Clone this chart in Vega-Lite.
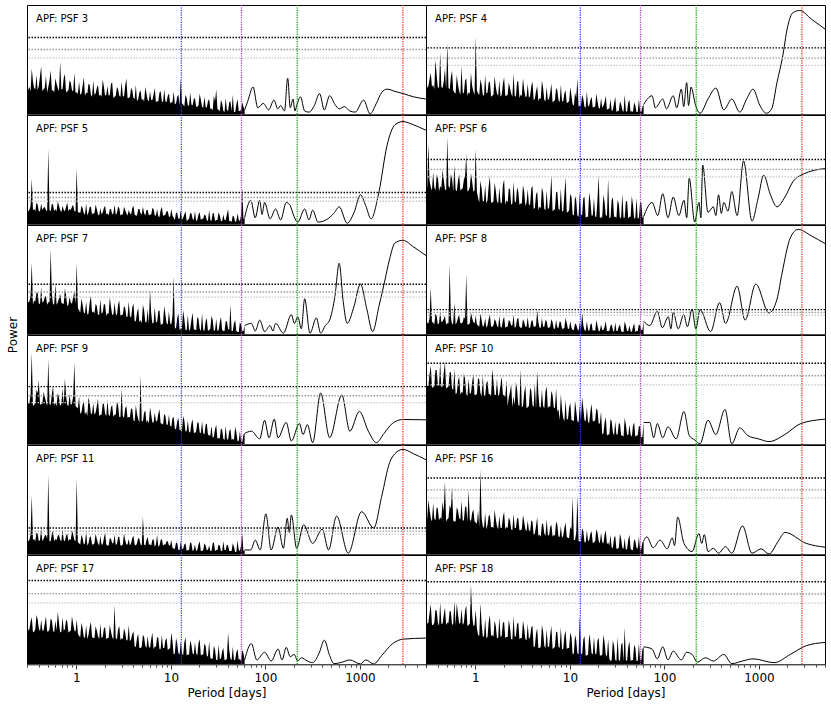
{
"$schema":"https://vega.github.io/schema/vega-lite/v6.json",
"padding":{"left":6,"top":3,"right":5,"bottom":2},
"background":"white",
"config":{"font":"DejaVu Sans","view":{"stroke":"black","strokeWidth":1}},
"datasets":{"meta":[
{"k":"p3","row":1,"col":1,"lab":"APF: PSF 3","thr":70.2,"g1":59.3,"g2":51.4},
{"k":"p4","row":1,"col":2,"lab":"APF: PSF 4","thr":60.8,"g1":51.4,"g2":44.7},
{"k":"p5","row":2,"col":1,"lab":"APF: PSF 5","thr":29.1,"g1":24.5,"g2":21.1},
{"k":"p6","row":2,"col":2,"lab":"APF: PSF 6","thr":59.3,"g1":50.2,"g2":43.4},
{"k":"p7","row":3,"col":1,"lab":"APF: PSF 7","thr":45.8,"g1":38.7,"g2":34.1},
{"k":"p8","row":3,"col":2,"lab":"APF: PSF 8","thr":22.6,"g1":20.1,"g2":17.3},
{"k":"p9","row":4,"col":1,"lab":"APF: PSF 9","thr":52.8,"g1":44.4,"g2":38.2},
{"k":"p10","row":4,"col":2,"lab":"APF: PSF 10","thr":74.2,"g1":62.7,"g2":54.3},
{"k":"p11","row":5,"col":1,"lab":"APF: PSF 11","thr":24,"g1":21.2,"g2":18.5},
{"k":"p16","row":5,"col":2,"lab":"APF: PSF 16","thr":69.8,"g1":58.9,"g2":51.4},
{"k":"p17","row":6,"col":1,"lab":"APF: PSF 17","thr":76.7,"g1":64.6,"g2":56.2},
{"k":"p18","row":6,"col":2,"lab":"APF: PSF 18","thr":75.5,"g1":64.3,"g2":55.9}
]},
"data":{"values":[
{"x":0.3,"p3":53,"p4":45,"p5":18,"p6":45,"p7":40,"p8":22,"p9":52,"p10":70,"p11":22,"p16":44,"p17":47,"p18":71},
{"x":0.318,"p3":25,"p4":26,"p5":13,"p6":74,"p7":30,"p8":10,"p9":38,"p10":54,"p11":13,"p16":50,"p17":32,"p18":38},
{"x":0.337,"p3":42,"p4":38,"p5":42,"p6":34,"p7":66,"p8":43,"p9":84,"p10":72,"p11":54,"p16":33,"p17":43,"p18":55},
{"x":0.357,"p3":24,"p4":27,"p5":14,"p6":48,"p7":31,"p8":11,"p9":36,"p10":52,"p11":14,"p16":47,"p17":30,"p18":36},
{"x":0.378,"p3":36,"p4":50,"p5":20,"p6":31,"p7":38,"p8":19,"p9":50,"p10":68,"p11":20,"p16":31,"p17":45,"p18":50},
{"x":0.4,"p3":26,"p4":25,"p5":12,"p6":44,"p7":28,"p8":9,"p9":59,"p10":55,"p11":12,"p16":42,"p17":33,"p18":39},
{"x":0.424,"p3":44,"p4":57,"p5":19,"p6":35,"p7":43,"p8":21,"p9":37,"p10":76,"p11":24,"p16":34,"p17":41,"p18":57},
{"x":0.449,"p3":23,"p4":24,"p5":15,"p6":50,"p7":30,"p8":12,"p9":48,"p10":53,"p11":14,"p16":48,"p17":31,"p18":37},
{"x":0.476,"p3":35,"p4":42,"p5":13,"p6":32,"p7":35,"p8":17,"p9":39,"p10":75,"p11":18,"p16":67,"p17":44,"p18":52},
{"x":0.504,"p3":25,"p4":65,"p5":69,"p6":80,"p7":29,"p8":10,"p9":78,"p10":52,"p11":73,"p16":32,"p17":30,"p18":38},
{"x":0.534,"p3":40,"p4":23,"p5":12,"p6":33,"p7":78,"p8":64,"p9":36,"p10":66,"p11":12,"p16":45,"p17":42,"p18":49},
{"x":0.566,"p3":22,"p4":40,"p5":18,"p6":42,"p7":27,"p8":9,"p9":53,"p10":51,"p11":21,"p16":62,"p17":31,"p18":36},
{"x":0.599,"p3":33,"p4":20,"p5":14,"p6":54,"p7":46,"p8":29,"p9":38,"p10":69,"p11":14,"p16":30,"p17":40,"p18":58},
{"x":0.635,"p3":24,"p4":36,"p5":21,"p6":30,"p7":29,"p8":11,"p9":47,"p10":47,"p11":17,"p16":43,"p17":48,"p18":56},
{"x":0.673,"p3":48,"p4":21,"p5":13,"p6":46,"p7":37,"p8":18,"p9":35,"p10":62,"p11":13,"p16":33,"p17":29,"p18":37},
{"x":0.713,"p3":23,"p4":44,"p5":17,"p6":32,"p7":28,"p8":10,"p9":51,"p10":48,"p11":23,"p16":49,"p17":43,"p18":51},
{"x":0.755,"p3":37,"p4":19,"p5":12,"p6":41,"p7":42,"p8":16,"p9":60,"p10":65,"p11":12,"p16":31,"p17":32,"p18":38},
{"x":0.8,"p3":21,"p4":33,"p5":20,"p6":64,"p7":26,"p8":55,"p9":36,"p10":46,"p11":19,"p16":44,"p17":39,"p18":54},
{"x":0.847,"p3":31,"p4":20,"p5":14,"p6":31,"p7":34,"p8":9,"p9":46,"p10":60,"p11":14,"p16":59,"p17":30,"p18":36},
{"x":0.897,"p3":22,"p4":38,"p5":16,"p6":47,"p7":28,"p8":20,"p9":37,"p10":47,"p11":22,"p16":30,"p17":44,"p18":73},
{"x":0.951,"p3":38,"p4":21,"p5":12,"p6":30,"p7":39,"p8":11,"p9":75,"p10":64,"p11":13,"p16":41,"p17":31,"p18":35},
{"x":1.007,"p3":20,"p4":71,"p5":51,"p6":69,"p7":65,"p8":17,"p9":34,"p10":45,"p11":70,"p16":29,"p17":41,"p18":50},
{"x":1.067,"p3":30,"p4":19,"p5":11,"p6":24,"p7":22,"p8":8,"p9":44,"p10":61,"p11":10,"p16":40,"p17":26,"p18":27},
{"x":1.13,"p3":19,"p4":32,"p5":17,"p6":40,"p7":33,"p8":19,"p9":29,"p10":47,"p11":18,"p16":78,"p17":38,"p18":56},
{"x":1.197,"p3":34,"p4":18,"p5":10,"p6":21,"p7":20,"p8":7,"p9":40,"p10":63,"p11":9,"p16":26,"p17":25,"p18":26},
{"x":1.268,"p3":20,"p4":36,"p5":19,"p6":36,"p7":30,"p8":15,"p9":30,"p10":44,"p11":21,"p16":38,"p17":36,"p18":42},
{"x":1.343,"p3":28,"p4":20,"p5":11,"p6":22,"p7":19,"p8":8,"p9":43,"p10":58,"p11":10,"p16":27,"p17":27,"p18":25},
{"x":1.423,"p3":18,"p4":30,"p5":16,"p6":44,"p7":35,"p8":18,"p9":28,"p10":46,"p11":16,"p16":36,"p17":39,"p18":45},
{"x":1.507,"p3":31,"p4":17,"p5":10,"p6":20,"p7":21,"p8":7,"p9":38,"p10":69,"p11":9,"p16":25,"p17":24,"p18":27},
{"x":1.597,"p3":19,"p4":35,"p5":18,"p6":38,"p7":28,"p8":14,"p9":29,"p10":45,"p11":19,"p16":41,"p17":35,"p18":40},
{"x":1.691,"p3":27,"p4":19,"p5":9,"p6":21,"p7":18,"p8":8,"p9":42,"p10":60,"p11":10,"p16":26,"p17":26,"p18":24},
{"x":1.792,"p3":18,"p4":31,"p5":15,"p6":34,"p7":32,"p8":17,"p9":27,"p10":46,"p11":17,"p16":35,"p17":37,"p18":43},
{"x":1.898,"p3":32,"p4":18,"p5":11,"p6":19,"p7":20,"p8":6,"p9":37,"p10":62,"p11":9,"p16":24,"p17":25,"p18":26},
{"x":2.011,"p3":17,"p4":34,"p5":17,"p6":41,"p7":27,"p8":16,"p9":28,"p10":45,"p11":20,"p16":39,"p17":34,"p18":39},
{"x":2.13,"p3":26,"p4":17,"p5":10,"p6":22,"p7":19,"p8":7,"p9":41,"p10":59,"p11":8,"p16":25,"p17":24,"p18":25},
{"x":2.256,"p3":18,"p4":29,"p5":14,"p6":33,"p7":34,"p8":13,"p9":26,"p10":43,"p11":15,"p16":34,"p17":36,"p18":41},
{"x":2.39,"p3":29,"p4":19,"p5":9,"p6":18,"p7":18,"p8":8,"p9":36,"p10":55,"p11":10,"p16":23,"p17":25,"p18":23},
{"x":2.532,"p3":16,"p4":37,"p5":18,"p6":39,"p7":29,"p8":18,"p9":27,"p10":44,"p11":18,"p16":37,"p17":54,"p18":44},
{"x":2.682,"p3":25,"p4":16,"p5":10,"p6":20,"p7":17,"p8":7,"p9":39,"p10":57,"p11":9,"p16":24,"p17":23,"p18":26},
{"x":2.841,"p3":17,"p4":30,"p5":15,"p6":30,"p7":31,"p8":15,"p9":25,"p10":36,"p11":16,"p16":33,"p17":35,"p18":38},
{"x":3.01,"p3":30,"p4":18,"p5":9,"p6":19,"p7":18,"p8":6,"p9":51,"p10":69,"p11":8,"p16":22,"p17":24,"p18":24},
{"x":3.188,"p3":16,"p4":33,"p5":16,"p6":36,"p7":26,"p8":14,"p9":24,"p10":35,"p11":19,"p16":36,"p17":33,"p18":40},
{"x":3.377,"p3":33,"p4":16,"p5":10,"p6":17,"p7":16,"p8":7,"p9":35,"p10":54,"p11":9,"p16":23,"p17":22,"p18":23},
{"x":3.577,"p3":15,"p4":28,"p5":13,"p6":32,"p7":30,"p8":16,"p9":25,"p10":34,"p11":14,"p16":31,"p17":36,"p18":37},
{"x":3.79,"p3":24,"p4":17,"p5":9,"p6":18,"p7":15,"p8":6,"p9":33,"p10":52,"p11":10,"p16":21,"p17":23,"p18":25},
{"x":4.014,"p3":15,"p4":30,"p5":17,"p6":35,"p7":28,"p8":13,"p9":22,"p10":36,"p11":17,"p16":30,"p17":30,"p18":35},
{"x":4.253,"p3":27,"p4":14,"p5":8,"p6":15,"p7":12,"p8":7,"p9":36,"p10":56,"p11":8,"p16":19,"p17":16,"p18":16},
{"x":4.505,"p3":14,"p4":26,"p5":14,"p6":30,"p7":24,"p8":22,"p9":23,"p10":67,"p11":15,"p16":34,"p17":28,"p18":33},
{"x":4.772,"p3":22,"p4":15,"p5":10,"p6":16,"p7":13,"p8":6,"p9":63,"p10":34,"p11":9,"p16":18,"p17":15,"p18":15},
{"x":5.055,"p3":14,"p4":31,"p5":16,"p6":34,"p7":27,"p8":15,"p9":21,"p10":50,"p11":35,"p16":28,"p17":27,"p18":36},
{"x":5.355,"p3":25,"p4":13,"p5":8,"p6":14,"p7":11,"p8":7,"p9":31,"p10":33,"p11":8,"p16":19,"p17":17,"p18":17},
{"x":5.672,"p3":13,"p4":25,"p5":13,"p6":31,"p7":23,"p8":12,"p9":22,"p10":53,"p11":16,"p16":32,"p17":26,"p18":32},
{"x":6.009,"p3":21,"p4":14,"p5":9,"p6":15,"p7":41,"p8":6,"p9":34,"p10":35,"p11":9,"p16":17,"p17":15,"p18":16},
{"x":6.365,"p3":13,"p4":28,"p5":15,"p6":45,"p7":10,"p8":14,"p9":20,"p10":49,"p11":13,"p16":27,"p17":29,"p18":35},
{"x":6.743,"p3":24,"p4":12,"p5":8,"p6":13,"p7":25,"p8":5,"p9":29,"p10":34,"p11":7,"p16":18,"p17":16,"p18":15},
{"x":7.142,"p3":12,"p4":24,"p5":14,"p6":29,"p7":11,"p8":13,"p9":21,"p10":51,"p11":18,"p16":30,"p17":25,"p18":30},
{"x":7.566,"p3":20,"p4":13,"p5":7,"p6":14,"p7":22,"p8":6,"p9":32,"p10":32,"p11":8,"p16":16,"p17":14,"p18":16},
{"x":8.015,"p3":12,"p4":27,"p5":16,"p6":33,"p7":9,"p8":11,"p9":19,"p10":46,"p11":14,"p16":26,"p17":27,"p18":34},
{"x":8.49,"p3":23,"p4":12,"p5":8,"p6":12,"p7":26,"p8":5,"p9":28,"p10":24,"p11":9,"p16":17,"p17":15,"p18":14},
{"x":8.994,"p3":11,"p4":22,"p5":12,"p6":43,"p7":10,"p8":15,"p9":18,"p10":41,"p11":12,"p16":29,"p17":24,"p18":31},
{"x":9.527,"p3":19,"p4":11,"p5":7,"p6":11,"p7":21,"p8":5,"p9":27,"p10":23,"p11":8,"p16":15,"p17":14,"p18":15},
{"x":10.09,"p3":11,"p4":25,"p5":14,"p6":28,"p7":9,"p8":12,"p9":16,"p10":38,"p11":13,"p16":25,"p17":29,"p18":29},
{"x":10.69,"p3":21,"p4":9,"p5":6,"p6":9,"p7":53,"p8":4,"p9":25,"p10":22,"p11":5,"p16":52,"p17":9,"p18":9},
{"x":11.33,"p3":10,"p4":20,"p5":11,"p6":26,"p7":6,"p8":10,"p9":14,"p10":40,"p11":11,"p16":13,"p17":24,"p18":27},
{"x":12.0,"p3":18,"p4":33,"p5":5,"p6":8,"p7":19,"p8":5,"p9":24,"p10":21,"p11":4,"p16":54,"p17":10,"p18":10},
{"x":12.71,"p3":33,"p4":8,"p5":13,"p6":30,"p7":5,"p8":11,"p9":13,"p10":36,"p11":12,"p16":12,"p17":21,"p18":45},
{"x":13.46,"p3":9,"p4":18,"p5":6,"p6":9,"p7":22,"p8":20,"p9":26,"p10":43,"p11":5,"p16":24,"p17":8,"p18":9},
{"x":14.26,"p3":18,"p4":7,"p5":12,"p6":25,"p7":4,"p8":4,"p9":12,"p10":22,"p11":10,"p16":11,"p17":25,"p18":26},
{"x":15.11,"p3":8,"p4":21,"p5":4,"p6":7,"p7":18,"p8":12,"p9":22,"p10":34,"p11":4,"p16":22,"p17":9,"p18":8},
{"x":16.0,"p3":20,"p4":8,"p5":10,"p6":29,"p7":5,"p8":3,"p9":11,"p10":20,"p11":11,"p16":13,"p17":22,"p18":28},
{"x":16.95,"p3":8,"p4":16,"p5":5,"p6":8,"p7":20,"p8":10,"p9":23,"p10":37,"p11":3,"p16":21,"p17":10,"p18":10},
{"x":17.96,"p3":15,"p4":7,"p5":12,"p6":24,"p7":4,"p8":4,"p9":10,"p10":21,"p11":9,"p16":11,"p17":20,"p18":25},
{"x":19.02,"p3":7,"p4":19,"p5":4,"p6":7,"p7":16,"p8":13,"p9":20,"p10":33,"p11":4,"p16":23,"p17":8,"p18":9},
{"x":20.15,"p3":19,"p4":6,"p5":11,"p6":45,"p7":5,"p8":3,"p9":11,"p10":19,"p11":12,"p16":12,"p17":23,"p18":24},
{"x":21.35,"p3":7,"p4":15,"p5":5,"p6":6,"p7":19,"p8":9,"p9":21,"p10":30,"p11":3,"p16":20,"p17":9,"p18":8},
{"x":22.61,"p3":16,"p4":8,"p5":9,"p6":27,"p7":3,"p8":4,"p9":9,"p10":10,"p11":10,"p16":10,"p17":19,"p18":27},
{"x":23.95,"p3":6,"p4":17,"p5":4,"p6":8,"p7":15,"p8":12,"p9":19,"p10":25,"p11":4,"p16":22,"p17":8,"p18":9},
{"x":25.37,"p3":14,"p4":5,"p5":13,"p6":42,"p7":4,"p8":3,"p9":8,"p10":9,"p11":8,"p16":11,"p17":21,"p18":23},
{"x":26.88,"p3":5,"p4":14,"p5":3,"p6":6,"p7":17,"p8":8,"p9":17,"p10":23,"p11":3,"p16":18,"p17":5,"p18":3},
{"x":28.47,"p3":17,"p4":4,"p5":10,"p6":25,"p7":3,"p8":4,"p9":7,"p10":11,"p11":11,"p16":6,"p17":17,"p18":22},
{"x":30.16,"p3":23,"p4":16,"p5":4,"p6":7,"p7":14,"p8":11,"p9":18,"p10":21,"p11":4,"p16":17,"p17":4,"p18":4},
{"x":31.95,"p3":4,"p4":3,"p5":11,"p6":22,"p7":4,"p8":3,"p9":6,"p10":9,"p11":9,"p16":5,"p17":18,"p18":25},
{"x":33.85,"p3":13,"p4":12,"p5":3,"p6":5,"p7":16,"p8":9,"p9":15,"p10":19,"p11":3,"p16":19,"p17":5,"p18":3},
{"x":35.86,"p3":3,"p4":4,"p5":9,"p6":28,"p7":3,"p8":2,"p9":5,"p10":8,"p11":12,"p16":6,"p17":15,"p18":20},
{"x":37.98,"p3":15,"p4":18,"p5":4,"p6":6,"p7":12,"p8":12,"p9":17,"p10":24,"p11":4,"p16":15,"p17":4,"p18":34},
{"x":40.24,"p3":3,"p4":2,"p5":14,"p6":21,"p7":5,"p8":3,"p9":4,"p10":9,"p11":8,"p16":5,"p17":29,"p18":3},
{"x":42.62,"p3":12,"p4":13,"p5":3,"p6":7,"p7":27,"p8":8,"p9":14,"p10":18,"p11":3,"p16":18,"p17":5,"p18":21},
{"x":45.15,"p3":18,"p4":3,"p5":8,"p6":26,"p7":3,"p8":2,"p9":5,"p10":7,"p11":10,"p16":4,"p17":16,"p18":4},
{"x":47.83,"p3":2,"p4":11,"p5":2,"p6":5,"p7":13,"p8":10,"p9":16,"p10":20,"p11":2,"p16":14,"p17":4,"p18":18},
{"x":50.67,"p3":14,"p4":2,"p5":10,"p6":24,"p7":2,"p8":3,"p9":3,"p10":8,"p11":13,"p16":6,"p17":14,"p18":3},
{"x":53.67,"p3":3,"p4":14,"p5":3,"p6":6,"p7":11,"p8":9,"p9":12,"p10":17,"p11":3,"p16":16,"p17":5,"p18":19},
{"x":56.86,"p3":11,"p4":2,"p5":33,"p6":20,"p7":3,"p8":4,"p9":2,"p10":6,"p11":19,"p16":5,"p17":13,"p18":4},
{"x":60.23,"p3":4,"p4":9,"p5":6,"p6":7,"p7":8,"p8":12,"p9":10,"p10":20,"p11":4,"p16":12,"p17":4,"p18":16},
{"x":0.309,"p3":22,"p4":24,"p5":12,"p6":33,"p7":29,"p8":10,"p9":37,"p10":53,"p11":12,"p16":32,"p17":31,"p18":37},
{"x":0.327,"p3":21,"p4":32,"p5":17,"p6":40,"p7":35,"p8":15,"p9":45,"p10":64,"p11":18,"p16":41,"p17":39,"p18":47},
{"x":0.347,"p3":30,"p4":25,"p5":13,"p6":31,"p7":27,"p8":11,"p9":35,"p10":52,"p11":13,"p16":30,"p17":29,"p18":36},
{"x":0.367,"p3":23,"p4":23,"p5":12,"p6":34,"p7":30,"p8":9,"p9":38,"p10":54,"p11":12,"p16":33,"p17":32,"p18":38},
{"x":0.389,"p3":22,"p4":36,"p5":18,"p6":45,"p7":38,"p8":17,"p9":47,"p10":68,"p11":19,"p16":43,"p17":41,"p18":49},
{"x":0.412,"p3":35,"p4":24,"p5":12,"p6":30,"p7":28,"p8":10,"p9":36,"p10":53,"p11":13,"p16":31,"p17":30,"p18":35},
{"x":0.436,"p3":21,"p4":25,"p5":13,"p6":33,"p7":29,"p8":11,"p9":37,"p10":52,"p11":12,"p16":32,"p17":31,"p18":37},
{"x":0.462,"p3":24,"p4":30,"p5":16,"p6":41,"p7":34,"p8":14,"p9":44,"p10":65,"p11":17,"p16":39,"p17":37,"p18":45},
{"x":0.49,"p3":20,"p4":23,"p5":12,"p6":31,"p7":27,"p8":9,"p9":35,"p10":51,"p11":14,"p16":30,"p17":30,"p18":36},
{"x":0.519,"p3":31,"p4":24,"p5":13,"p6":35,"p7":30,"p8":10,"p9":37,"p10":53,"p11":12,"p16":33,"p17":32,"p18":38},
{"x":0.55,"p3":22,"p4":34,"p5":19,"p6":46,"p7":37,"p8":16,"p9":46,"p10":66,"p11":19,"p16":42,"p17":40,"p18":48},
{"x":0.582,"p3":20,"p4":22,"p5":12,"p6":30,"p7":28,"p8":10,"p9":36,"p10":50,"p11":12,"p16":31,"p17":29,"p18":37},
{"x":0.617,"p3":28,"p4":19,"p5":12,"p6":32,"p7":27,"p8":9,"p9":35,"p10":46,"p11":13,"p16":30,"p17":31,"p18":36},
{"x":0.654,"p3":21,"p4":27,"p5":17,"p6":40,"p7":33,"p8":15,"p9":43,"p10":58,"p11":18,"p16":40,"p17":38,"p18":46},
{"x":0.693,"p3":23,"p4":18,"p5":11,"p6":31,"p7":29,"p8":10,"p9":37,"p10":45,"p11":12,"p16":32,"p17":30,"p18":38},
{"x":0.734,"p3":33,"p4":20,"p5":13,"p6":33,"p7":28,"p8":11,"p9":36,"p10":47,"p11":13,"p16":31,"p17":31,"p18":36},
{"x":0.777,"p3":20,"p4":31,"p5":16,"p6":44,"p7":36,"p8":14,"p9":45,"p10":60,"p11":17,"p16":43,"p17":41,"p18":49},
{"x":0.823,"p3":22,"p4":17,"p5":12,"p6":30,"p7":27,"p8":9,"p9":35,"p10":44,"p11":12,"p16":30,"p17":29,"p18":35},
{"x":0.872,"p3":29,"p4":19,"p5":13,"p6":34,"p7":29,"p8":10,"p9":36,"p10":46,"p11":13,"p16":32,"p17":31,"p18":37},
{"x":0.924,"p3":21,"p4":26,"p5":18,"p6":39,"p7":34,"p8":15,"p9":44,"p10":57,"p11":18,"p16":38,"p17":37,"p18":45},
{"x":0.979,"p3":20,"p4":18,"p5":12,"p6":31,"p7":28,"p8":10,"p9":35,"p10":45,"p11":12,"p16":30,"p17":30,"p18":36},
{"x":1.037,"p3":19,"p4":22,"p5":11,"p6":30,"p7":24,"p8":9,"p9":33,"p10":46,"p11":11,"p16":28,"p17":28,"p18":33},
{"x":1.098,"p3":18,"p4":18,"p5":10,"p6":20,"p7":20,"p8":7,"p9":28,"p10":59,"p11":9,"p16":25,"p17":25,"p18":26},
{"x":1.163,"p3":26,"p4":27,"p5":15,"p6":33,"p7":27,"p8":13,"p9":36,"p10":44,"p11":15,"p16":33,"p17":33,"p18":37},
{"x":1.232,"p3":17,"p4":17,"p5":9,"p6":21,"p7":19,"p8":8,"p9":27,"p10":45,"p11":10,"p16":24,"p17":24,"p18":25},
{"x":1.305,"p3":19,"p4":19,"p5":8,"p6":19,"p7":18,"p8":6,"p9":26,"p10":56,"p11":8,"p16":23,"p17":23,"p18":24},
{"x":1.382,"p3":27,"p4":29,"p5":16,"p6":35,"p7":29,"p8":14,"p9":38,"p10":46,"p11":16,"p16":35,"p17":34,"p18":39},
{"x":1.464,"p3":16,"p4":16,"p5":9,"p6":20,"p7":20,"p8":7,"p9":28,"p10":44,"p11":9,"p16":25,"p17":25,"p18":26},
{"x":1.551,"p3":18,"p4":18,"p5":10,"p6":21,"p7":19,"p8":8,"p9":27,"p10":58,"p11":10,"p16":24,"p17":24,"p18":25},
{"x":1.643,"p3":24,"p4":25,"p5":14,"p6":31,"p7":26,"p8":12,"p9":35,"p10":45,"p11":14,"p16":32,"p17":31,"p18":35},
{"x":1.741,"p3":17,"p4":17,"p5":8,"p6":19,"p7":18,"p8":6,"p9":26,"p10":44,"p11":8,"p16":23,"p17":23,"p18":24},
{"x":1.844,"p3":16,"p4":16,"p5":9,"p6":20,"p7":19,"p8":7,"p9":27,"p10":55,"p11":9,"p16":24,"p17":24,"p18":25},
{"x":1.954,"p3":25,"p4":28,"p5":15,"p6":36,"p7":28,"p8":13,"p9":37,"p10":45,"p11":15,"p16":34,"p17":33,"p18":38},
{"x":2.07,"p3":18,"p4":17,"p5":9,"p6":18,"p7":17,"p8":6,"p9":26,"p10":43,"p11":9,"p16":23,"p17":23,"p18":24},
{"x":2.192,"p3":17,"p4":18,"p5":8,"p6":20,"p7":19,"p8":7,"p9":27,"p10":35,"p11":8,"p16":24,"p17":24,"p18":25},
{"x":2.322,"p3":28,"p4":24,"p5":14,"p6":32,"p7":25,"p8":12,"p9":34,"p10":48,"p11":14,"p16":31,"p17":30,"p18":34},
{"x":2.46,"p3":15,"p4":16,"p5":10,"p6":19,"p7":18,"p8":8,"p9":25,"p10":34,"p11":10,"p16":22,"p17":23,"p18":23},
{"x":2.606,"p3":17,"p4":17,"p5":9,"p6":21,"p7":19,"p8":6,"p9":27,"p10":36,"p11":9,"p16":24,"p17":24,"p18":25},
{"x":2.761,"p3":23,"p4":30,"p5":16,"p6":34,"p7":27,"p8":14,"p9":36,"p10":50,"p11":16,"p16":33,"p17":32,"p18":37},
{"x":2.924,"p3":16,"p4":15,"p5":8,"p6":18,"p7":17,"p8":7,"p9":25,"p10":35,"p11":8,"p16":22,"p17":22,"p18":23},
{"x":3.098,"p3":17,"p4":17,"p5":9,"p6":19,"p7":18,"p8":6,"p9":26,"p10":34,"p11":9,"p16":23,"p17":23,"p18":24},
{"x":3.281,"p3":26,"p4":23,"p5":13,"p6":30,"p7":24,"p8":11,"p9":33,"p10":47,"p11":13,"p16":30,"p17":29,"p18":33},
{"x":3.476,"p3":15,"p4":16,"p5":8,"p6":20,"p7":16,"p8":7,"p9":24,"p10":33,"p11":9,"p16":21,"p17":22,"p18":22},
{"x":3.682,"p3":16,"p4":15,"p5":10,"p6":18,"p7":17,"p8":6,"p9":25,"p10":35,"p11":8,"p16":22,"p17":21,"p18":23},
{"x":3.901,"p3":22,"p4":26,"p5":15,"p6":33,"p7":25,"p8":12,"p9":32,"p10":49,"p11":15,"p16":31,"p17":28,"p18":34},
{"x":4.132,"p3":14,"p4":13,"p5":9,"p6":14,"p7":12,"p8":7,"p9":21,"p10":34,"p11":9,"p16":18,"p17":16,"p18":16},
{"x":4.377,"p3":12,"p4":21,"p5":8,"p6":27,"p7":20,"p8":8,"p9":28,"p10":33,"p11":10,"p16":26,"p17":24,"p18":28},
{"x":4.637,"p3":20,"p4":12,"p5":14,"p6":13,"p7":11,"p8":11,"p9":20,"p10":46,"p11":14,"p16":17,"p17":15,"p18":15},
{"x":4.912,"p3":13,"p4":14,"p5":9,"p6":15,"p7":10,"p8":6,"p9":21,"p10":34,"p11":8,"p16":16,"p17":16,"p18":16},
{"x":5.203,"p3":12,"p4":24,"p5":10,"p6":29,"p7":22,"p8":7,"p9":29,"p10":35,"p11":9,"p16":28,"p17":25,"p18":30},
{"x":5.512,"p3":19,"p4":12,"p5":13,"p6":13,"p7":11,"p8":13,"p9":20,"p10":48,"p11":13,"p16":17,"p17":15,"p18":15},
{"x":5.839,"p3":12,"p4":13,"p5":8,"p6":14,"p7":10,"p8":6,"p9":19,"p10":33,"p11":9,"p16":18,"p17":16,"p18":16},
{"x":6.185,"p3":13,"p4":20,"p5":9,"p6":26,"p7":19,"p8":7,"p9":27,"p10":34,"p11":8,"p16":25,"p17":23,"p18":27},
{"x":6.552,"p3":18,"p4":11,"p5":14,"p6":12,"p7":10,"p8":11,"p9":20,"p10":45,"p11":14,"p16":16,"p17":14,"p18":14},
{"x":6.941,"p3":11,"p4":13,"p5":8,"p6":14,"p7":11,"p8":5,"p9":21,"p10":33,"p11":9,"p16":17,"p17":16,"p18":16},
{"x":7.353,"p3":12,"p4":22,"p5":7,"p6":30,"p7":21,"p8":6,"p9":28,"p10":30,"p11":7,"p16":27,"p17":24,"p18":29},
{"x":7.789,"p3":21,"p4":11,"p5":13,"p6":13,"p7":9,"p8":12,"p9":19,"p10":22,"p11":13,"p16":16,"p17":14,"p18":15},
{"x":8.251,"p3":11,"p4":12,"p5":8,"p6":12,"p7":10,"p8":5,"p9":18,"p10":32,"p11":8,"p16":15,"p17":15,"p18":14},
{"x":8.74,"p3":12,"p4":19,"p5":9,"p6":27,"p7":18,"p8":6,"p9":26,"p10":21,"p11":9,"p16":24,"p17":22,"p18":26},
{"x":9.259,"p3":17,"p4":10,"p5":12,"p6":11,"p7":9,"p8":10,"p9":18,"p10":23,"p11":12,"p16":16,"p17":13,"p18":14},
{"x":9.808,"p3":10,"p4":12,"p5":7,"p6":13,"p7":10,"p8":5,"p9":17,"p10":34,"p11":8,"p16":15,"p17":15,"p18":15},
{"x":10.39,"p3":11,"p4":17,"p5":8,"p6":25,"p7":17,"p8":6,"p9":24,"p10":22,"p11":6,"p16":23,"p17":21,"p18":25},
{"x":11.01,"p3":9,"p4":8,"p5":4,"p6":8,"p7":5,"p8":4,"p9":14,"p10":21,"p11":5,"p16":13,"p17":10,"p18":10},
{"x":11.66,"p3":16,"p4":15,"p5":10,"p6":22,"p7":15,"p8":9,"p9":21,"p10":31,"p11":10,"p16":20,"p17":19,"p18":22},
{"x":12.35,"p3":8,"p4":7,"p5":5,"p6":7,"p7":4,"p8":3,"p9":13,"p10":20,"p11":4,"p16":12,"p17":9,"p18":9},
{"x":13.08,"p3":10,"p4":8,"p5":4,"p6":8,"p7":5,"p8":4,"p9":12,"p10":22,"p11":5,"p16":11,"p17":10,"p18":10},
{"x":13.86,"p3":7,"p4":14,"p5":9,"p6":24,"p7":14,"p8":8,"p9":22,"p10":33,"p11":9,"p16":21,"p17":20,"p18":23},
{"x":14.68,"p3":15,"p4":6,"p5":3,"p6":6,"p7":4,"p8":3,"p9":12,"p10":21,"p11":3,"p16":11,"p17":8,"p18":8},
{"x":15.55,"p3":8,"p4":7,"p5":5,"p6":7,"p7":3,"p8":4,"p9":11,"p10":20,"p11":4,"p16":12,"p17":9,"p18":9},
{"x":16.47,"p3":9,"p4":13,"p5":10,"p6":21,"p7":13,"p8":9,"p9":19,"p10":30,"p11":10,"p16":19,"p17":18,"p18":21},
{"x":17.45,"p3":14,"p4":6,"p5":4,"p6":8,"p7":5,"p8":3,"p9":11,"p10":21,"p11":4,"p16":10,"p17":9,"p18":9},
{"x":18.49,"p3":7,"p4":7,"p5":3,"p6":7,"p7":4,"p8":3,"p9":12,"p10":22,"p11":3,"p16":12,"p17":10,"p18":10},
{"x":19.58,"p3":8,"p4":12,"p5":9,"p6":23,"p7":14,"p8":8,"p9":20,"p10":31,"p11":9,"p16":20,"p17":19,"p18":22},
{"x":20.74,"p3":13,"p4":5,"p5":4,"p6":6,"p7":3,"p8":3,"p9":10,"p10":19,"p11":3,"p16":10,"p17":8,"p18":8},
{"x":21.97,"p3":6,"p4":6,"p5":5,"p6":7,"p7":4,"p8":4,"p9":10,"p10":9,"p11":4,"p16":11,"p17":9,"p18":9},
{"x":23.28,"p3":7,"p4":11,"p5":8,"p6":20,"p7":12,"p8":7,"p9":18,"p10":20,"p11":8,"p16":18,"p17":17,"p18":20},
{"x":24.65,"p3":12,"p4":4,"p5":3,"p6":8,"p7":3,"p8":3,"p9":9,"p10":8,"p11":4,"p16":9,"p17":7,"p18":7},
{"x":26.12,"p3":5,"p4":5,"p5":4,"p6":6,"p7":5,"p8":3,"p9":8,"p10":9,"p11":3,"p16":8,"p17":6,"p18":5},
{"x":27.66,"p3":4,"p4":3,"p5":10,"p6":22,"p7":13,"p8":9,"p9":6,"p10":21,"p11":10,"p16":6,"p17":5,"p18":4},
{"x":29.3,"p3":12,"p4":10,"p5":3,"p6":7,"p7":4,"p8":2,"p9":14,"p10":8,"p11":3,"p16":15,"p17":13,"p18":17},
{"x":31.04,"p3":5,"p4":2,"p5":4,"p6":6,"p7":3,"p8":3,"p9":5,"p10":9,"p11":4,"p16":5,"p17":4,"p18":3},
{"x":32.89,"p3":3,"p4":3,"p5":8,"p6":19,"p7":11,"p8":7,"p9":5,"p10":19,"p11":8,"p16":6,"p17":5,"p18":4},
{"x":34.84,"p3":10,"p4":9,"p5":3,"p6":7,"p7":4,"p8":3,"p9":13,"p10":8,"p11":3,"p16":14,"p17":12,"p18":18},
{"x":36.91,"p3":2,"p4":2,"p5":4,"p6":6,"p7":3,"p8":2,"p9":4,"p10":7,"p11":4,"p16":5,"p17":4,"p18":3},
{"x":39.09,"p3":4,"p4":3,"p5":9,"p6":21,"p7":12,"p8":8,"p9":5,"p10":18,"p11":9,"p16":4,"p17":5,"p18":4},
{"x":41.41,"p3":11,"p4":11,"p5":3,"p6":5,"p7":4,"p8":3,"p9":12,"p10":8,"p11":3,"p16":13,"p17":13,"p18":16},
{"x":43.87,"p3":3,"p4":2,"p5":2,"p6":7,"p7":3,"p8":3,"p9":4,"p10":9,"p11":3,"p16":5,"p17":4,"p18":3},
{"x":46.47,"p3":2,"p4":2,"p5":7,"p6":18,"p7":10,"p8":7,"p9":4,"p10":17,"p11":7,"p16":4,"p17":4,"p18":4},
{"x":49.23,"p3":9,"p4":8,"p5":3,"p6":6,"p7":3,"p8":2,"p9":11,"p10":7,"p11":2,"p16":12,"p17":11,"p18":15},
{"x":52.15,"p3":3,"p4":2,"p5":4,"p6":5,"p7":2,"p8":3,"p9":3,"p10":8,"p11":4,"p16":5,"p17":4,"p18":3},
{"x":55.24,"p3":4,"p4":3,"p5":8,"p6":20,"p7":9,"p8":8,"p9":3,"p10":16,"p11":8,"p16":4,"p17":3,"p18":4},
{"x":58.52,"p3":7,"p4":7,"p5":5,"p6":6,"p7":3,"p8":4,"p9":9,"p10":7,"p11":3,"p16":11,"p17":10,"p18":14},
{"x":65,"p3":12},{"x":74,"p3":25},{"x":83,"p3":6},{"x":95,"p3":10},{"x":108,"p3":4},{"x":123,"p3":13},{"x":135,"p3":5},{"x":145,"p3":8},{"x":159,"p3":3},{"x":172,"p3":33},{"x":183,"p3":6},{"x":196,"p3":14},{"x":205,"p3":3},{"x":214,"p3":8},{"x":235,"p3":16},{"x":260,"p3":3},{"x":289,"p3":2},{"x":329,"p3":8},{"x":374,"p3":19},{"x":420,"p3":4},{"x":478,"p3":17},{"x":544,"p3":9},{"x":603,"p3":5},{"x":687,"p3":7},{"x":782,"p3":3},{"x":890,"p3":2},{"x":1094,"p3":13},{"x":1278,"p3":0.5},{"x":1492,"p3":10},{"x":1698,"p3":20},{"x":1933,"p3":23},{"x":2345,"p3":21},{"x":2850,"p3":19},{"x":3690,"p3":16},{"x":5000,"p3":14},
{"x":74,"p4":17},{"x":80,"p4":6},{"x":96,"p4":14},{"x":105,"p4":5},{"x":124,"p4":17},{"x":135,"p4":6},{"x":151,"p4":23},{"x":160,"p4":7},{"x":172,"p4":29},{"x":180,"p4":8},{"x":191,"p4":25},{"x":214,"p4":8},{"x":238,"p4":1},{"x":289,"p4":14},{"x":350,"p4":24},{"x":425,"p4":4},{"x":516,"p4":14},{"x":627,"p4":2},{"x":741,"p4":14},{"x":866,"p4":23},{"x":1025,"p4":8},{"x":1198,"p4":1},{"x":1363,"p4":5},{"x":1551,"p4":29},{"x":1766,"p4":51},{"x":2010,"p4":80},{"x":2288,"p4":93},{"x":2707,"p4":95},{"x":3597,"p4":87},{"x":5000,"p4":78},
{"x":70,"p5":22},{"x":78,"p5":6},{"x":87,"p5":22},{"x":92,"p5":9},{"x":98,"p5":20},{"x":112,"p5":5},{"x":128,"p5":14},{"x":145,"p5":4},{"x":166,"p5":20},{"x":183,"p5":17},{"x":201,"p5":7},{"x":220,"p5":2},{"x":260,"p5":14},{"x":289,"p5":4},{"x":316,"p5":13},{"x":360,"p5":2},{"x":437,"p5":4},{"x":530,"p5":10},{"x":603,"p5":16},{"x":733,"p5":1},{"x":868,"p5":11},{"x":1012,"p5":27},{"x":1152,"p5":17},{"x":1311,"p5":5},{"x":1592,"p5":30},{"x":1933,"p5":72},{"x":2345,"p5":91},{"x":2850,"p5":94},{"x":3690,"p5":91},{"x":5000,"p5":86},
{"x":74,"p6":20},{"x":85,"p6":8},{"x":96,"p6":28},{"x":109,"p6":6},{"x":124,"p6":25},{"x":142,"p6":8},{"x":161,"p6":22},{"x":172,"p6":6},{"x":183,"p6":42},{"x":209,"p6":2},{"x":232,"p6":20},{"x":243,"p6":6},{"x":254,"p6":54},{"x":289,"p6":11},{"x":329,"p6":16},{"x":350,"p6":8},{"x":374,"p6":27},{"x":400,"p6":10},{"x":425,"p6":20},{"x":470,"p6":12},{"x":516,"p6":30},{"x":588,"p6":8},{"x":687,"p6":58},{"x":844,"p6":3},{"x":986,"p6":25},{"x":1122,"p6":45},{"x":1311,"p6":28},{"x":1551,"p6":16},{"x":1885,"p6":25},{"x":2288,"p6":39},{"x":2963,"p6":46},{"x":5000,"p6":51},
{"x":71,"p7":10},{"x":78,"p7":3},{"x":87,"p7":13},{"x":98,"p7":2.5},{"x":112,"p7":8},{"x":120,"p7":3},{"x":128,"p7":10},{"x":155,"p7":1},{"x":188,"p7":18},{"x":203,"p7":10},{"x":220,"p7":16},{"x":240,"p7":5},{"x":260,"p7":32.5},{"x":296,"p7":1},{"x":346,"p7":15},{"x":384,"p7":1},{"x":430,"p7":8},{"x":478,"p7":13},{"x":544,"p7":35},{"x":603,"p7":65},{"x":665,"p7":30},{"x":733,"p7":10},{"x":868,"p7":26},{"x":1012,"p7":46},{"x":1183,"p7":23},{"x":1363,"p7":2.5},{"x":1592,"p7":26},{"x":1811,"p7":47},{"x":2062,"p7":69},{"x":2345,"p7":83.6},{"x":2850,"p7":86},{"x":3690,"p7":80},{"x":5000,"p7":72},
{"x":70,"p8":8},{"x":84,"p8":21},{"x":95,"p8":6},{"x":110,"p8":16},{"x":117,"p8":5},{"x":124,"p8":20},{"x":140,"p8":5},{"x":160,"p8":18},{"x":175,"p8":7},{"x":196,"p8":23},{"x":215,"p8":5},{"x":238,"p8":22.6},{"x":308,"p8":2.5},{"x":384,"p8":29},{"x":443,"p8":10},{"x":588,"p8":44},{"x":714,"p8":13},{"x":925,"p8":46},{"x":1279,"p8":19.5},{"x":1551,"p8":32},{"x":1766,"p8":57},{"x":2142,"p8":88},{"x":2602,"p8":96},{"x":3597,"p8":90},{"x":5000,"p8":83},
{"x":71,"p9":12},{"x":87,"p9":5},{"x":98,"p9":22},{"x":109,"p9":6},{"x":124,"p9":23},{"x":136,"p9":6},{"x":166,"p9":20},{"x":188,"p9":3},{"x":229,"p9":19},{"x":250,"p9":9},{"x":278,"p9":18},{"x":316,"p9":1.5},{"x":384,"p9":47},{"x":478,"p9":6},{"x":643,"p9":45},{"x":782,"p9":12},{"x":986,"p9":30},{"x":1228,"p9":12},{"x":1492,"p9":1.5},{"x":1800,"p9":10},{"x":2198,"p9":19},{"x":2850,"p9":22.7},{"x":5000,"p9":22.4},
{"x":70,"p10":20},{"x":77,"p10":6},{"x":84,"p10":19},{"x":96,"p10":6},{"x":109,"p10":16},{"x":133,"p10":5},{"x":161,"p10":30},{"x":183,"p10":8},{"x":209,"p10":4},{"x":238,"p10":0.5},{"x":289,"p10":22},{"x":350,"p10":9},{"x":437,"p10":32},{"x":516,"p10":0.5},{"x":627,"p10":15},{"x":762,"p10":8},{"x":986,"p10":5},{"x":1279,"p10":2.5},{"x":1885,"p10":9},{"x":2774,"p10":19},{"x":5000,"p10":23},
{"x":70,"p11":4},{"x":78,"p11":13},{"x":88,"p11":4},{"x":101,"p11":37},{"x":115,"p11":4},{"x":136,"p11":25},{"x":155,"p11":5.5},{"x":170,"p11":33},{"x":179,"p11":20},{"x":188,"p11":36},{"x":214,"p11":5.5},{"x":254,"p11":27},{"x":316,"p11":10},{"x":399,"p11":23},{"x":466,"p11":4},{"x":566,"p11":35},{"x":752,"p11":1},{"x":1041,"p11":39},{"x":1400,"p11":24},{"x":1698,"p11":53},{"x":2062,"p11":84},{"x":2345,"p11":92},{"x":2850,"p11":96},{"x":3690,"p11":92},{"x":5000,"p11":86.5},
{"x":65,"p16":16},{"x":76,"p16":6},{"x":90,"p16":13},{"x":107,"p16":5},{"x":121,"p16":15},{"x":128,"p16":8},{"x":138,"p16":34},{"x":161,"p16":10},{"x":196,"p16":2.5},{"x":232,"p16":19},{"x":248,"p16":10},{"x":264,"p16":18},{"x":289,"p16":2.5},{"x":329,"p16":5.5},{"x":374,"p16":1},{"x":443,"p16":7},{"x":516,"p16":1},{"x":670,"p16":26},{"x":844,"p16":1},{"x":1052,"p16":5},{"x":1279,"p16":0.3},{"x":1600,"p16":12},{"x":1885,"p16":20},{"x":3162,"p16":10},{"x":5000,"p16":6.5},
{"x":71,"p17":19},{"x":81,"p17":4},{"x":98,"p17":11},{"x":115,"p17":3},{"x":136,"p17":14},{"x":150,"p17":4},{"x":166,"p17":15.5},{"x":183,"p17":7},{"x":201,"p17":9},{"x":220,"p17":3},{"x":240,"p17":6},{"x":278,"p17":3},{"x":316,"p17":1.5},{"x":369,"p17":10},{"x":420,"p17":22},{"x":478,"p17":8},{"x":530,"p17":0.6},{"x":650,"p17":2},{"x":782,"p17":4},{"x":1012,"p17":0.3},{"x":1152,"p17":4},{"x":1400,"p17":0.3},{"x":1698,"p17":8},{"x":2198,"p17":18.6},{"x":2850,"p17":23},{"x":5000,"p17":24},
{"x":74,"p18":14},{"x":84,"p18":5},{"x":96,"p18":16},{"x":109,"p18":4},{"x":124,"p18":12},{"x":151,"p18":4},{"x":172,"p18":11},{"x":196,"p18":9},{"x":223,"p18":2},{"x":271,"p18":6},{"x":329,"p18":3},{"x":425,"p18":9},{"x":516,"p18":0.6},{"x":670,"p18":3},{"x":866,"p18":5},{"x":1452,"p18":1.5},{"x":2142,"p18":9},{"x":3162,"p18":17},{"x":5000,"p18":20}
]},
"transform":[
{"fold":["p3","p4","p5","p6","p7","p8","p9","p10","p11","p16","p17","p18"],"as":["k","v"]},
{"filter":"isValid(datum.v)"},
{"lookup":"k","from":{"data":{"name":"meta"},"key":"k","fields":["row","col","lab","thr","g1","g2"]}}
],
"facet":{
"row":{"field":"row","type":"ordinal","header":{"title":"Power","labels":false,"labelPadding":0,"titleFont":"DejaVu Sans","titleFontSize":12,"titleFontWeight":"normal","titleColor":"black","titlePadding":-3}},
"column":{"field":"col","type":"ordinal","header":null}
},
"spacing":{"row":0,"column":0},
"bounds":"flush",
"spec":{
"width":399,"height":109.3,
"layer":[
{"transform":[{"filter":"datum.x <= 60.3"}],
"mark":{"type":"area","color":"black","interpolate":"linear","clip":true},
"encoding":{
"x":{"field":"x","type":"quantitative","scale":{"type":"log","domain":[0.3,5000],"nice":false},
"axis":{"title":"Period [days]","values":[0.3,0.4,0.5,0.6,0.7,0.8,0.9,1,2,3,4,5,6,7,8,9,10,20,30,40,50,60,70,80,90,100,200,300,400,500,600,700,800,900,1000,2000,3000,4000,5000],
"labelExpr":"indexof([1,10,100,1000], datum.value) >= 0 ? format(datum.value, 'd') : ''",
"tickSize":{"condition":{"test":"indexof([1,10,100,1000], datum.value) >= 0","value":4},"value":2},
"tickColor":"black","tickWidth":0.8,"domain":false,"grid":false,"labelOverlap":false,"labelFlush":false,
"labelFont":"DejaVu Sans","labelFontSize":12,"labelColor":"black","labelPadding":3,
"titleFont":"DejaVu Sans","titleFontSize":12,"titleFontWeight":"normal","titleColor":"black","titlePadding":4}},
"y":{"field":"v","type":"quantitative","scale":{"domain":[0,100],"nice":false},"axis":null}}},
{"transform":[{"filter":"datum.x >= 60.2"}],
"mark":{"type":"line","color":"black","strokeWidth":1,"interpolate":"monotone","clip":true},
"encoding":{"x":{"field":"x","type":"quantitative"},"y":{"field":"v","type":"quantitative"}}},
{"transform":[{"filter":"datum.x == 0.3"}],
"mark":{"type":"rule","color":"#c8c8c8","strokeWidth":1.3,"strokeDash":[1.5,1.5]},
"encoding":{"y":{"field":"g2","type":"quantitative"}}},
{"transform":[{"filter":"datum.x == 0.3"}],
"mark":{"type":"rule","color":"#999999","strokeWidth":1.3,"strokeDash":[1.5,1.5]},
"encoding":{"y":{"field":"g1","type":"quantitative"}}},
{"transform":[{"filter":"datum.x == 0.3"}],
"mark":{"type":"rule","color":"black","strokeWidth":1.4,"strokeDash":[1.5,1.5]},
"encoding":{"y":{"field":"thr","type":"quantitative"}}},
{"transform":[{"filter":"datum.x == 0.3"}],
"mark":{"type":"rule","color":"#3030ff","strokeWidth":1.3,"strokeDash":[1.2,1.2]},
"encoding":{"x":{"datum":12.9}}},
{"transform":[{"filter":"datum.x == 0.3"}],
"mark":{"type":"rule","color":"#a040b0","strokeWidth":1.3,"strokeDash":[1.2,1.2]},
"encoding":{"x":{"datum":55.8}}},
{"transform":[{"filter":"datum.x == 0.3"}],
"mark":{"type":"rule","color":"#119911","strokeWidth":1.3,"strokeDash":[1.2,1.2]},
"encoding":{"x":{"datum":217}}},
{"transform":[{"filter":"datum.x == 0.3"}],
"mark":{"type":"rule","color":"#ff2020","strokeWidth":1.3,"strokeDash":[1.2,1.2]},
"encoding":{"x":{"datum":2850}}},
{"transform":[{"filter":"datum.x == 0.3"}],
"mark":{"type":"text","align":"left","baseline":"middle","font":"DejaVu Sans","fontSize":10,"color":"black"},
"encoding":{"x":{"datum":0.374},"y":{"datum":87},"text":{"field":"lab"}}}
]
}
}
